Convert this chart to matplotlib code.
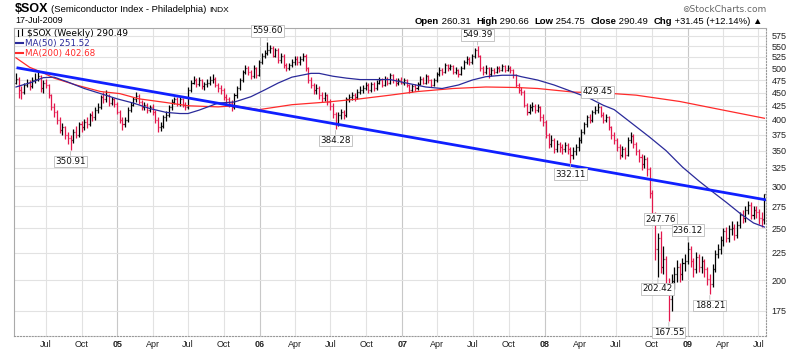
import datetime as dt
import matplotlib
matplotlib.use('Agg')
import matplotlib.pyplot as plt
import matplotlib.dates as mdates
from matplotlib.lines import Line2D

plt.rcParams['font.family'] = ['Liberation Sans', 'DejaVu Sans']

# weekly bars, first bar = week ending 16-Apr-2004
first_week = dt.date(2004, 4, 16)

closes = [
    478, 455, 452, 465, 470, 462, 475, 478, 483, 459, 469,
    465, 445, 422, 414, 400, 383, 387, 375, 370, 367, 380, 375, 392,
    387, 397, 392, 409, 404, 418, 422, 441, 437, 445, 430, 437, 429,
    414, 400, 392, 400, 418, 427, 437, 443, 432, 422, 427, 418, 422,
    414, 400, 387, 390, 404, 409, 422, 432, 437, 429, 437, 427, 422,
    455, 470, 475, 467, 475, 462, 467, 470, 475, 478, 465, 459, 455,
    441, 437, 430, 422, 445, 459, 475, 492, 500, 492, 483, 500, 485,
    513, 528, 535, 541, 545, 528, 541, 517, 528, 506, 500, 506, 513,
    521, 513, 521, 528, 500, 475, 465, 455, 459, 445, 439, 445, 432,
    425, 410, 395, 409, 414, 409, 437, 441, 445, 441, 452, 455, 459,
    465, 455, 467, 459, 470, 475, 465, 478, 470, 485, 475, 469, 475,
    470, 475, 465, 455, 462, 459, 467, 478, 470, 483, 475, 465, 475,
    487, 496, 492, 506, 500, 504, 492, 496, 487, 500, 513, 521, 513,
    526, 541, 528, 500, 492, 500, 487, 496, 492, 500, 496, 504, 496,
    500, 496, 485, 465, 455, 452, 427, 414, 422, 425, 418, 422, 404,
    397, 375, 360, 367, 352, 360, 355, 352, 358, 352, 344, 349, 355,
    367, 380, 392, 404, 400, 414, 418, 422, 409, 400, 404, 387, 375,
    367, 355, 344, 352, 344, 367, 373, 360, 349, 340, 330, 337, 323,
    291, 265, 229, 240, 212, 219, 197, 184, 199, 205, 212, 205, 215,
    217, 229, 217, 210, 221, 212, 217, 210, 201, 197, 210, 224, 229,
    238, 247, 240, 249, 251, 243, 254, 265, 262, 271, 277, 265, 271,
    268, 262, 259.04, 290.49,
]
highs = [
    490, 482, 462, 470, 478, 476, 482, 490, 497, 486, 475,
    478, 468, 448, 430, 418, 404, 395, 390, 380, 375, 385, 390, 396,
    398, 402, 405, 412, 415, 422, 430, 446, 452, 455, 448, 442, 440,
    432, 418, 404, 405, 422, 432, 442, 452, 447, 436, 432, 430, 427,
    428, 418, 404, 396, 408, 415, 427, 437, 442, 441, 442, 440, 432,
    460, 476, 484, 480, 482, 478, 472, 478, 484, 487, 482, 470, 465,
    458, 448, 442, 435, 449, 463, 479, 496, 506, 505, 497, 506, 503,
    517, 533, 542, 559.60, 553, 550, 546, 545, 533, 532, 512, 512, 520,
    527, 526, 527, 535, 531, 503, 481, 470, 467, 463, 452, 451, 448,
    437, 430, 413, 413, 420, 418, 441, 448, 452, 450, 457, 462, 465,
    472, 470, 472, 472, 476, 482, 479, 484, 482, 490, 488, 480, 480,
    481, 480, 478, 468, 467, 468, 472, 483, 482, 488, 486, 478, 480,
    492, 502, 501, 511, 510, 509, 507, 502, 499, 505, 518, 527, 525,
    531, 546, 549.39, 530, 505, 506, 503, 502, 501, 505, 504, 509, 507,
    506, 505, 499, 488, 470, 460, 455, 430, 428, 432, 428, 428, 425,
    410, 399, 378, 374, 370, 366, 364, 361, 364, 362, 356, 355, 360,
    371, 384, 396, 409, 410, 418, 425, 429.45, 425, 413, 410, 406, 390,
    380, 370, 360, 357, 356, 372, 380, 376, 364, 353, 345, 343, 340,
    326, 295, 268, 245, 247.76, 232, 222, 202, 205, 212, 218, 215, 220,
    224, 236.12, 232, 220, 226, 224, 222, 219, 212, 205, 214, 228, 234,
    242, 251, 252, 254, 258, 255, 258, 269, 271, 275, 281, 280, 275,
    276, 272, 268, 290.66,
]
lows = [
    466, 440, 437, 448, 460, 455, 458, 470, 474, 452, 450,
    458, 440, 418, 405, 392, 378, 375, 368, 360, 350.91, 362, 370, 372,
    380, 383, 386, 390, 398, 400, 412, 420, 430, 432, 425, 426, 422,
    410, 395, 382, 388, 396, 414, 424, 432, 428, 418, 418, 412, 414,
    408, 394, 380, 381, 386, 398, 405, 418, 428, 424, 425, 422, 417,
    420, 452, 466, 460, 462, 457, 456, 461, 465, 470, 460, 452, 448,
    435, 428, 422, 415, 420, 440, 455, 472, 488, 486, 478, 480, 480,
    483, 510, 522, 530, 533, 524, 524, 512, 512, 500, 494, 496, 502,
    508, 507, 508, 516, 495, 470, 458, 447, 448, 438, 432, 434, 426,
    418, 403, 384.28, 390, 402, 402, 405, 432, 436, 434, 437, 447, 450,
    455, 450, 452, 454, 456, 466, 460, 462, 465, 467, 470, 463, 465,
    466, 465, 460, 450, 452, 454, 456, 465, 466, 468, 470, 460, 462,
    472, 484, 486, 490, 495, 496, 487, 488, 482, 485, 498, 510, 507,
    510, 522, 524, 495, 486, 488, 480, 483, 487, 489, 491, 493, 491,
    493, 490, 480, 460, 450, 445, 422, 408, 410, 416, 412, 413, 398,
    390, 370, 354, 355, 346, 348, 348, 345, 348, 345, 332.11, 338, 343,
    350, 362, 376, 388, 395, 397, 410, 412, 404, 394, 396, 382, 368,
    360, 350, 338, 340, 337, 342, 362, 354, 343, 333, 322, 325, 313,
    285, 258, 218, 202.42, 206, 205, 190, 167.55, 175, 192, 198, 198, 200,
    208, 214, 212, 203, 206, 207, 206, 203, 196, 188.21, 194, 207, 220,
    224, 232, 236, 236, 243, 238, 240, 250, 256, 257, 266, 260, 260,
    262, 255, 252, 254.75,
]
first_open = 470
last_open = 260.31

# moving averages (week index, value)
ma50_weeks = [0, 6, 10, 14, 19, 25, 31, 37, 43, 49, 55, 60, 63, 67, 74, 80, 86, 91,
              96, 101, 108, 111, 116, 121, 126, 132, 137, 142, 150, 156, 162, 167,
              172, 178, 183, 185, 191, 197, 204, 210, 215, 219, 226, 232, 238, 244,
              250, 255, 260, 265, 270, 274]
ma50_vals = [461, 471, 480, 481, 471, 458, 448, 438, 430, 420, 413, 411, 411, 417, 430,
             432, 442, 455, 469, 481, 489, 489, 483, 479, 476, 476, 476, 470, 461, 458,
             465, 475, 482, 485, 485, 482, 475, 465, 451, 439, 426, 418, 392, 371, 350,
             326, 307, 293, 280, 267, 256, 251.52]
ma200_weeks = [0, 5, 10, 14, 22, 31, 38, 45, 55, 63, 74, 80, 89, 101, 114, 126, 137,
               147, 160, 172, 183, 191, 204, 216, 227, 243, 258, 274]
ma200_vals = [523, 502, 490, 479, 465, 452, 448, 438, 431, 425, 423, 425, 418, 427, 432,
              438, 445, 452, 458, 461, 460, 458, 451, 449, 445, 433, 418, 402.68]

# hand-drawn trendline
trend_weeks = [0.7, 275.1]
trend_vals = [500.6, 282.6]

# labelled swing points: week index, 'high' or 'low'
notes = [(20, 'low'), (92, 'high'), (117, 'low'), (169, 'high'), (203, 'low'),
         (213, 'high'), (235, 'low'), (236, 'high'), (239, 'low'), (246, 'high'),
         (254, 'low')]

y_ticks = list(range(175, 576, 25))

header = [('Open', True), (' 260.31  ', False), ('High', True), (' 290.66  ', False),
          ('Low', True), (' 254.75  ', False), ('Close', True), (' 290.49  ', False),
          ('Chg', True), (' +31.45 (+12.14%) ▲', False)]

UP = '#000000'
DOWN = '#e3174c'

fig = plt.figure(figsize=(8, 3.52), dpi=100)
ax = fig.add_axes([14 / 800, 16 / 352, 752 / 800, 308 / 352])

d0 = mdates.date2num(first_week)
xs = [d0 + 7 * i for i in range(len(closes))]
opens = [first_open] + closes[:-1]
opens[-1] = last_open

for i, x in enumerate(xs):
    prev = closes[i - 1] if i > 0 else first_open
    col = UP if closes[i] > prev else DOWN
    ax.vlines(x, lows[i], highs[i], color=col, lw=0.9)
    ax.hlines(opens[i], x - 2.6, x, color=col, lw=0.9)
    ax.hlines(closes[i], x, x + 2.6, color=col, lw=0.9)

ax.plot([d0 + 7 * w for w in ma200_weeks], ma200_vals, color='#ff2a2a', lw=0.9)
ax.plot([d0 + 7 * w for w in ma50_weeks], ma50_vals, color='#2a2a9a', lw=0.9)
ax.plot([d0 + 7 * w for w in trend_weeks], trend_vals, color='#1020ff', lw=2)

for w, kind in notes:
    v = highs[w] if kind == 'high' else lows[w]
    off = 5 if kind == 'high' else -5
    ax.annotate(f'{v:.2f}', (xs[w], v), xytext=(0, off), textcoords='offset points',
                ha='center', va='bottom' if kind == 'high' else 'top',
                fontsize=6.3, family='DejaVu Sans', color='#111111',
                bbox=dict(boxstyle='square,pad=0.15', fc='white', ec='#bbbbbb', lw=0.6),
                arrowprops=dict(arrowstyle='-', color='#bbbbbb', lw=0.6, shrinkA=0, shrinkB=1))

ax.set_yscale('log')
ax.set_ylim(157, 595)
ax.set_xlim(mdates.date2num(dt.date(2004, 4, 11)), mdates.date2num(dt.date(2009, 7, 21)))
ax.yaxis.tick_right()
ax.set_yticks(y_ticks)
ax.set_yticklabels([str(v) for v in y_ticks])
ax.minorticks_off()
ax.tick_params(axis='y', length=0, pad=4, labelsize=6.5, labelcolor='#222222')

qdates = [dt.date(y, m, 1) for y in range(2004, 2010) for m in (1, 4, 7, 10)]
qdates = [d for d in qdates if dt.date(2004, 7, 1) <= d <= dt.date(2009, 7, 1)]
mon = {1: None, 4: 'Apr', 7: 'Jul', 10: 'Oct'}
ax.set_xticks([mdates.date2num(d) for d in qdates])
ax.set_xticklabels([mon[d.month] or f'{d.year % 100:02d}' for d in qdates])
for lab, d in zip(ax.get_xticklabels(), qdates):
    if d.month == 1:
        lab.set_fontweight('bold')
ax.tick_params(axis='x', length=0, pad=3, labelsize=6.5, labelcolor='#222222')

ax.grid(True, axis='y', color='#e2e2e2', lw=0.8)
for d in qdates:
    ax.axvline(mdates.date2num(d), color='#c8c8c8' if d.month == 1 else '#e2e2e2', lw=0.8, zorder=0)
ax.set_axisbelow(True)
for s in ('left', 'top'):
    ax.spines[s].set_color('#aaaaaa')
    ax.spines[s].set_linewidth(0.8)
for s in ('right', 'bottom'):
    ax.spines[s].set_color('#999999')
    ax.spines[s].set_linestyle(':')
    ax.spines[s].set_linewidth(0.8)

# titles
fig.text(15 / 800, 1 - 12 / 352, '$SOX', fontsize=9, fontweight='bold')
fig.text(51 / 800, 1 - 12 / 352, '(Semiconductor Index - Philadelphia)', fontsize=6.8)
fig.text(209 / 800, 1 - 12 / 352, 'INDX', fontsize=6)
fig.text(15 / 800, 1 - 23 / 352, '17-Jul-2009', fontsize=6.5)
fig.text(766 / 800, 1 - 12 / 352, '⊚StockCharts.com', fontsize=6.5, color='#666666',
         ha='right', family=['DejaVu Sans'])

r = fig.canvas.get_renderer()
x = 415 / 800
for s, bold in header:
    t = fig.text(x, 1 - 24 / 352, s, fontsize=6.8, fontweight='bold' if bold else 'normal')
    x += t.get_window_extent(renderer=r).width / 800

# legend in the top left of the plot
fig.text(27 / 800, 1 - 36 / 352, '$SOX (Weekly) 290.49', fontsize=6.5, family=['DejaVu Sans'])
fig.text(25 / 800, 1 - 46 / 352, 'MA(50) 251.52', fontsize=6.3, color='#2a2a9a', family=['DejaVu Sans'])
fig.text(25 / 800, 1 - 56 / 352, 'MA(200) 402.68', fontsize=6.3, color='#ff2a2a', family=['DejaVu Sans'])
fig.add_artist(Line2D([16 / 800, 23 / 800], [1 - 43 / 352] * 2, color='#2a2a9a', lw=1.5))
fig.add_artist(Line2D([16 / 800, 23 / 800], [1 - 53 / 352] * 2, color='#ff2a2a', lw=1.5))
fig.add_artist(Line2D([18 / 800, 18 / 800], [1 - 30 / 352, 1 - 36 / 352], color='black', lw=0.8))
fig.add_artist(Line2D([22 / 800, 22 / 800], [1 - 29 / 352, 1 - 35 / 352], color='black', lw=0.8))

fig.savefig('out.png', dpi=100)
